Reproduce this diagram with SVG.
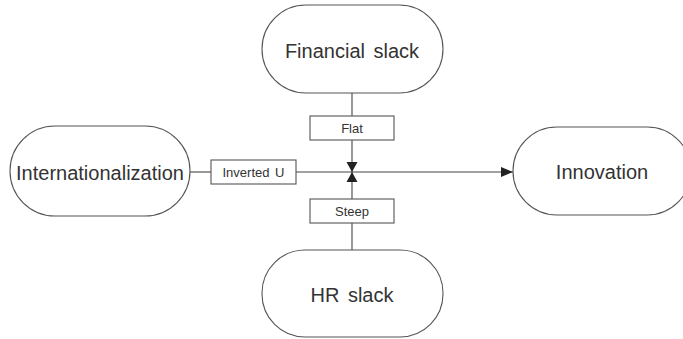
<svg xmlns="http://www.w3.org/2000/svg" width="683" height="339" viewBox="0 0 683 339">
  <style>
    .node { fill: #ffffff; stroke: #555555; stroke-width: 1.1; }
    .box { fill: #ffffff; stroke: #555555; stroke-width: 1.1; }
    .big { font-family: "Liberation Sans", Arial, sans-serif; font-size: 20px; fill: #333333; text-anchor: middle; word-spacing: 3px; }
    .small { font-family: "Liberation Sans", Arial, sans-serif; font-size: 13px; fill: #333333; text-anchor: middle; word-spacing: 2px; }
    .wire { stroke: #444444; stroke-width: 1.1; fill: none; }
  </style>
  <defs>
    <marker id="arrow" viewBox="0 0 12 10" refX="12" refY="5" markerWidth="12" markerHeight="10" markerUnits="userSpaceOnUse" orient="auto">
      <path d="M0,0 L12,5 L0,10 Z" fill="#222222"/>
    </marker>
  </defs>

  <rect width="683" height="339" fill="#ffffff"/>

  <!-- connectors -->
  <g id="connectors">
    <line class="wire" x1="190" y1="172" x2="211" y2="172"/>
    <line class="wire" x1="296" y1="172" x2="513" y2="172" marker-end="url(#arrow)"/>
    <line class="wire" x1="352" y1="93" x2="352" y2="116"/>
    <line class="wire" x1="352" y1="140" x2="352" y2="199"/>
    <line class="wire" x1="352" y1="223" x2="352" y2="250"/>
    <!-- moderator junction -->
    <path d="M346.5,162 L357.5,162 L346.5,182 L357.5,182 Z" fill="#222222"/>
  </g>

  <g id="financial-slack">
    <rect class="node" x="262" y="5" width="181" height="88" rx="44" ry="44"/>
    <text class="big" x="352" y="58">Financial slack</text>
  </g>

  <g id="internationalization">
    <rect class="node" x="10" y="126" width="180" height="90" rx="45" ry="45"/>
    <text class="big" x="100" y="180">Internationalization</text>
  </g>

  <g id="innovation">
    <rect class="node" x="513" y="127" width="178" height="88" rx="44" ry="44"/>
    <text class="big" x="602" y="179">Innovation</text>
  </g>

  <g id="hr-slack">
    <rect class="node" x="262" y="250" width="181" height="87" rx="43" ry="43"/>
    <text class="big" x="352" y="302">HR slack</text>
  </g>

  <g id="label-flat">
    <rect class="box" x="310" y="116" width="84" height="24"/>
    <text class="small" x="352" y="133">Flat</text>
  </g>

  <g id="label-inverted-u">
    <rect class="box" x="211" y="160" width="85" height="24"/>
    <text class="small" x="253.5" y="177">Inverted U</text>
  </g>

  <g id="label-steep">
    <rect class="box" x="310" y="199" width="84" height="24"/>
    <text class="small" x="352" y="216">Steep</text>
  </g>
</svg>
